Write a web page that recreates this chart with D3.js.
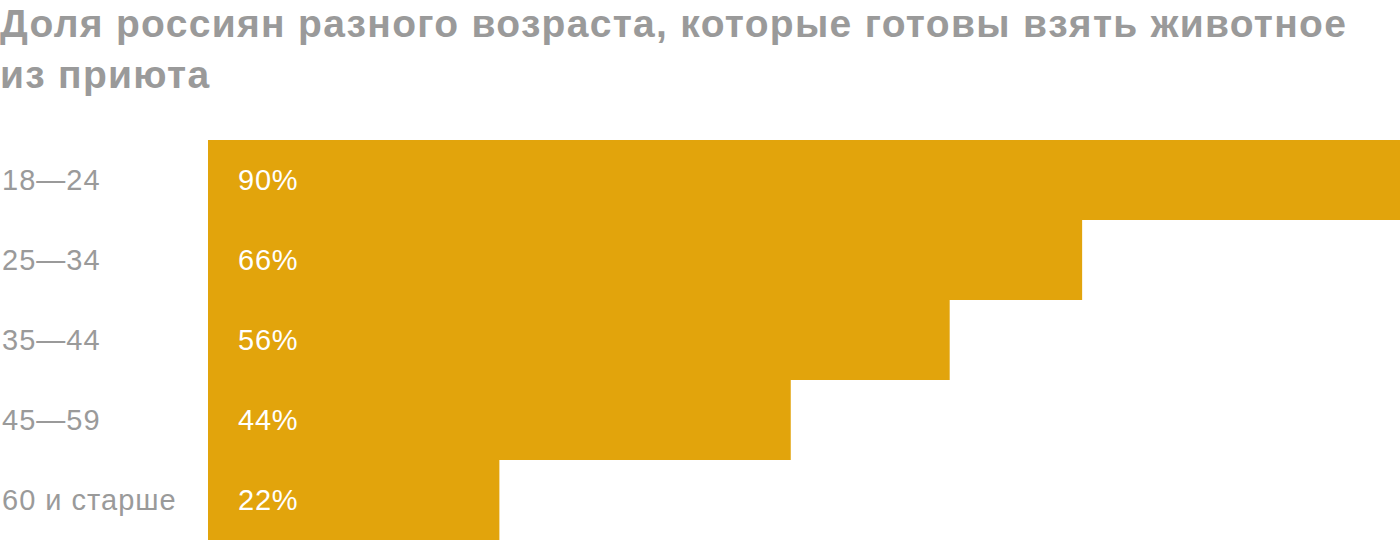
<!DOCTYPE html>
<html>
<head>
<meta charset="utf-8">
<script src="https://cdn.jsdelivr.net/npm/d3@7"></script>
<style>
  body { margin: 0; background: #fff; }
  svg { display: block; }
</style>
</head>
<body>
<div id="chart"></div>
<script>
'use strict';

var ageGroups = ['18—24', '25—34', '35—44', '45—59', '60 и старше'];
var shares = [90, 66, 56, 44, 22];
var titleLines = ['Доля россиян разного возраста, которые готовы взять животное', 'из приюта'];

var width = 1400, height = 540;
var barColor = '#e2a40c';
var textGray = '#9a9a9a';
var font = '"Liberation Sans", Arial, sans-serif';

var svg = d3.select('#chart')
    .append('svg')
    .attr('width', width)
    .attr('height', height);

// title
svg.selectAll('text.title')
    .data(titleLines)
    .enter()
    .append('text')
    .attr('class', 'title')
    .attr('x', 0)
    .attr('y', function (d, i) { return 37 + i * 51; })
    .attr('font-family', font)
    .attr('font-weight', 700)
    .attr('font-size', 39)
    .attr('letter-spacing', 1.3)
    .attr('fill', textGray)
    .text(function (d) { return d; });

var x = d3.scaleLinear()
    .domain([0, d3.max(shares)])
    .range([208, width]);

var y = d3.scaleBand()
    .domain(ageGroups)
    .range([140, 540])
    .padding(0);

var rows = svg.selectAll('g.row')
    .data(ageGroups.map(function (g, i) { return {label: g, value: shares[i]}; }))
    .enter()
    .append('g')
    .attr('class', 'row');

rows.append('rect')
    .attr('x', x(0))
    .attr('y', function (d) { return y(d.label); })
    .attr('width', function (d) { return x(d.value) - x(0); })
    .attr('height', y.bandwidth())
    .attr('fill', barColor);

// category labels on the left
rows.append('text')
    .attr('x', 2)
    .attr('y', function (d) { return y(d.label) + y.bandwidth() / 2; })
    .attr('dy', '0.35em')
    .attr('font-family', font)
    .attr('font-size', 29)
    .attr('letter-spacing', 1)
    .attr('fill', textGray)
    .text(function (d) { return d.label; });

// values inside the bars
rows.append('text')
    .attr('x', x(0) + 30)
    .attr('y', function (d) { return y(d.label) + y.bandwidth() / 2; })
    .attr('dy', '0.35em')
    .attr('font-family', font)
    .attr('font-size', 29)
    .attr('letter-spacing', 0.8)
    .attr('fill', '#fff')
    .text(function (d) { return d.value + '%'; });
</script>
</body>
</html>
